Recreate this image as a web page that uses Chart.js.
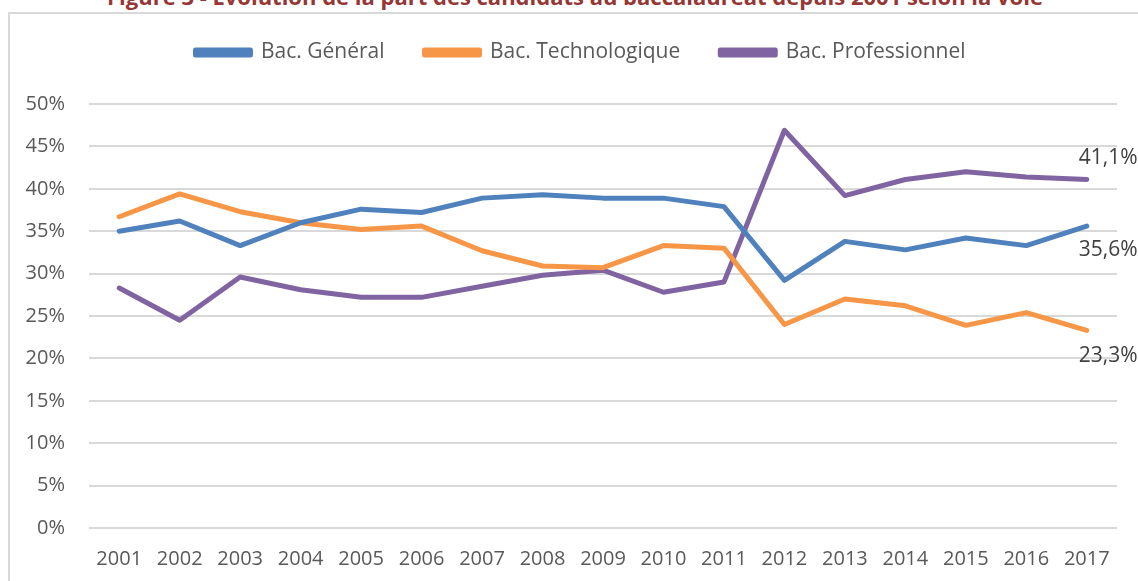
<!DOCTYPE html>
<html lang="fr">
<head>
    <meta charset="UTF-8">
    <title>Évolution de la part des candidats au baccalauréat</title>
    <script src="https://cdn.jsdelivr.net/npm/chart.js"></script>
    <style>
        html, body { margin: 0; padding: 0; background: #fff; overflow: hidden; }
        .page { position: relative; width: 1138px; height: 581px; }
        .title {
            position: absolute; left: 107px; top: -15px; white-space: nowrap;
            font-family: "Open Sans", sans-serif; font-weight: bold; font-size: 22px; line-height: 22px;
            color: #953735;
        }
        .frame {
            position: absolute; left: 8px; top: 12px; width: 1200px; height: 600px;
            border-left: 2px solid #d9d9d9; border-top: 2px solid #d9d9d9;
        }
        .wrap { position: absolute; left: 0; top: 0; width: 1138px; height: 581px; }
    </style>
</head>
<body>
<div class="page">
    <div class="title">Figure 3 - Évolution de la part des candidats au baccalauréat depuis 2001 selon la voie</div>
    <div class="frame"></div>
    <div class="wrap"><canvas id="bacChart"></canvas></div>
</div>
<script>
    const years = ['2001', '2002', '2003', '2004', '2005', '2006', '2007', '2008', '2009',
                   '2010', '2011', '2012', '2013', '2014', '2015', '2016', '2017'];
    const general = [35.0, 36.2, 33.3, 36.0, 37.6, 37.2, 38.9, 39.3, 38.9, 38.9, 37.9, 29.2, 33.8, 32.8, 34.2, 33.3, 35.6];
    const techno = [36.7, 39.4, 37.3, 36.0, 35.2, 35.6, 32.7, 30.9, 30.7, 33.3, 33.0, 24.0, 27.0, 26.2, 23.9, 25.4, 23.3];
    const pro = [28.3, 24.5, 29.6, 28.1, 27.2, 27.2, 28.5, 29.8, 30.4, 27.8, 29.0, 46.9, 39.2, 41.1, 42.0, 41.4, 41.1];
    const seriesNames = ['Bac. Général', 'Bac. Technologique', 'Bac. Professionnel'];
    const seriesColors = ['#4f81bd', '#f79646', '#8064a2'];

    const fontFamily = '"Open Sans", sans-serif';

    function fmt(v) {
        return v.toFixed(1).replace('.', ',') + '%';
    }

    // labels on the last point of each line, placed from the scales
    const endLabels = {
        id: 'endLabels',
        afterLayout(chart) {
            // legend sits a bit right of the canvas centre in the original
            chart.legend.left += 22;
            chart.legend.right += 22;
        },
        afterDatasetsDraw(chart) {
            const ctx = chart.ctx;
            const x = chart.scales.x;
            const y = chart.scales.y;
            const last = years.length - 1;
            const offsets = [24, 26, -21]; // below, below, above
            ctx.save();
            ctx.font = '21px ' + fontFamily;
            ctx.fillStyle = '#404040';
            ctx.textAlign = 'left';
            ctx.textBaseline = 'middle';
            chart.data.datasets.forEach((ds, i) => {
                const v = ds.data[last];
                ctx.fillText(fmt(v), x.getPixelForValue(last) - 8, y.getPixelForValue(v) + offsets[i]);
            });
            ctx.restore();
        }
    };

    new Chart(document.getElementById('bacChart'), {
        type: 'line',
        data: {
            labels: years,
            datasets: [general, techno, pro].map((d, i) => ({
                label: seriesNames[i],
                data: d,
                borderColor: seriesColors[i],
                backgroundColor: seriesColors[i],
                borderWidth: 5,
                pointRadius: 0,
                tension: 0,
                borderCapStyle: 'round',
                borderJoinStyle: 'round'
            }))
        },
        options: {
            responsive: true,
            maintainAspectRatio: false,
            animation: false,
            layout: { padding: { left: 0, right: 21, top: 2, bottom: -9 } },
            scales: {
                x: {
                    offset: true,
                    grid: { display: false, drawTicks: false },
                    border: { display: false },
                    ticks: { color: '#595959', font: { family: fontFamily, size: 20 }, padding: 19, maxRotation: 0 }
                },
                gap: {
                    // empty band between legend and plot
                    axis: 'x',
                    position: 'top',
                    grid: { display: false, drawTicks: false },
                    border: { display: false },
                    ticks: { display: false },
                    afterFit: s => { s.height = 31; }
                },
                y: {
                    min: 0,
                    max: 50,
                    grid: { color: '#d9d9d9', lineWidth: 2, drawTicks: false },
                    border: { display: false },
                    ticks: {
                        stepSize: 5,
                        color: '#595959',
                        font: { family: fontFamily, size: 20 },
                        padding: 24,
                        callback: v => v + '%'
                    },
                    afterFit: s => { s.width = 89; }
                }
            },
            plugins: {
                legend: {
                    position: 'top',
                    labels: {
                        boxWidth: 55,
                        boxHeight: 5,
                        color: '#595959',
                        font: { family: fontFamily, size: 21 },
                        padding: 40
                    }
                },
                tooltip: { enabled: false }
            }
        },
        plugins: [endLabels]
    });
</script>
</body>
</html>
